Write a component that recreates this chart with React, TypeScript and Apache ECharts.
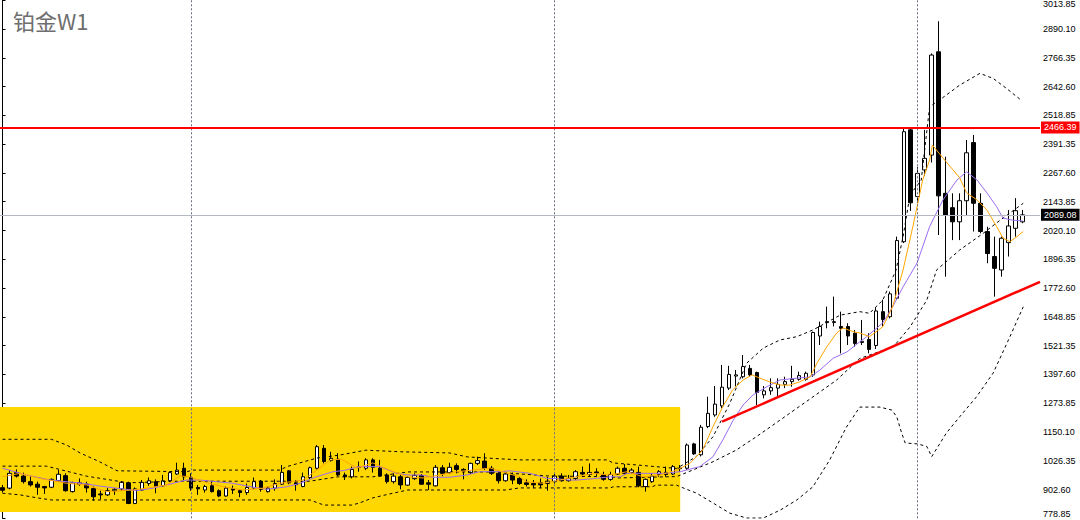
import { useEffect, useRef } from "react";
import * as echarts from "echarts";

const TITLE = "铂金W1";

// right price scale (bottom to top)
const Y_TICK_LABELS = [
  "778.85", "902.60", "1026.35", "1150.10", "1273.85", "1397.60", "1521.35",
  "1648.85", "1772.60", "1896.35", "2020.10", "2143.85", "2267.60", "2391.35",
  "2518.85", "2642.60", "2766.35", "2890.10", "3013.85",
];
const Y_MIN = 778.85;
const Y_STEP = 124.25;
const Y_MAX = 3015.35;

// weekly candles: [open, close, low, high]
const OHLC: number[][] = [
  [911, 900, 890, 923], [909, 973, 904, 987], [976, 961, 955, 990], [961, 937, 929, 976],
  [937, 923, 916, 961], [926, 913, 880, 937], [916, 910, 884, 919], [913, 947, 909, 951],
  [941, 969, 937, 987], [963, 898, 894, 973], [894, 932, 890, 937], [925, 932, 919, 951],
  [926, 910, 890, 937], [907, 872, 855, 916], [884, 880, 861, 898], [880, 898, 875, 909],
  [898, 904, 880, 909], [906, 934, 898, 939], [932, 843, 840, 937], [843, 906, 840, 912],
  [901, 934, 897, 944], [929, 941, 919, 955], [937, 916, 887, 947], [919, 941, 916, 966],
  [941, 976, 937, 980], [970, 987, 966, 1019], [995, 958, 944, 1019], [955, 909, 898, 973],
  [912, 906, 880, 923], [901, 916, 890, 923], [919, 894, 890, 937], [898, 875, 870, 904],
  [875, 909, 872, 916], [907, 901, 884, 920], [898, 890, 870, 904], [890, 912, 880, 929],
  [909, 937, 904, 955], [939, 904, 894, 944], [894, 909, 890, 916], [909, 929, 898, 947],
  [926, 977, 923, 1009], [984, 932, 926, 987], [932, 924, 898, 944], [916, 958, 913, 976],
  [955, 997, 944, 1002], [995, 1088, 990, 1095], [1081, 1024, 1016, 1095], [1028, 1038, 1024, 1066],
  [1034, 966, 961, 1060], [966, 958, 944, 976], [958, 990, 951, 1002], [999, 1001, 980, 1024],
  [995, 1031, 987, 1038], [1031, 999, 976, 1038], [995, 961, 958, 1031], [966, 937, 929, 973],
  [937, 961, 929, 973], [958, 923, 904, 966], [922, 955, 919, 961], [950, 964, 944, 973],
  [963, 926, 923, 970], [932, 926, 901, 944], [919, 999, 916, 1009], [997, 973, 961, 1009],
  [976, 999, 970, 1019], [1006, 990, 973, 1016], [990, 984, 947, 995], [976, 1016, 970, 1019],
  [1016, 1028, 1009, 1045], [1026, 995, 987, 1060], [995, 973, 966, 1005], [973, 941, 929, 984],
  [941, 970, 937, 980], [966, 944, 926, 976], [951, 929, 923, 958], [932, 925, 916, 947],
  [929, 923, 909, 944], [932, 923, 909, 951], [929, 939, 898, 958], [937, 961, 929, 973],
  [961, 941, 937, 973], [941, 951, 937, 966], [951, 980, 944, 987], [977, 970, 958, 1002],
  [968, 977, 958, 1016], [979, 973, 961, 995], [966, 947, 941, 980], [947, 968, 941, 980],
  [970, 995, 966, 1002], [995, 973, 966, 1013], [977, 987, 970, 995], [977, 919, 913, 1002],
  [916, 947, 894, 951], [937, 961, 932, 973], [968, 980, 958, 987], [977, 968, 958, 1002],
  [970, 1002, 966, 1009], [993, 996, 980, 1009], [995, 1095, 988, 1102], [1100, 1057, 1053, 1105],
  [1053, 1172, 1046, 1182], [1175, 1232, 1168, 1304], [1225, 1272, 1217, 1350], [1264, 1345, 1254, 1441],
  [1341, 1400, 1333, 1437], [1393, 1398, 1348, 1419], [1390, 1434, 1383, 1484], [1426, 1398, 1390, 1441],
  [1408, 1322, 1268, 1412], [1312, 1329, 1297, 1350], [1329, 1343, 1312, 1383], [1341, 1357, 1307, 1383],
  [1357, 1369, 1341, 1390], [1369, 1379, 1347, 1437], [1379, 1395, 1373, 1412], [1379, 1405, 1373, 1412],
  [1398, 1581, 1390, 1585], [1566, 1607, 1527, 1628], [1624, 1628, 1599, 1693], [1624, 1628, 1607, 1736],
  [1607, 1599, 1491, 1671], [1607, 1566, 1527, 1621], [1578, 1534, 1520, 1592], [1538, 1543, 1527, 1635],
  [1551, 1508, 1491, 1578], [1525, 1674, 1510, 1689], [1671, 1637, 1607, 1723], [1649, 1748, 1642, 1758],
  [1729, 1978, 1722, 1995], [1973, 2448, 1967, 2460], [2456, 2141, 2106, 2464], [2168, 2268, 2141, 2295],
  [2283, 2333, 2257, 2456], [2347, 2779, 2315, 2786], [2793, 2171, 2002, 2925], [2182, 2088, 1822, 2340],
  [2120, 2059, 1980, 2182], [2059, 2150, 1980, 2182], [2150, 2357, 2088, 2412], [2401, 2139, 2017, 2434],
  [2139, 2017, 2009, 2182], [2017, 1922, 1880, 2038], [1909, 1858, 1736, 1995], [1851, 1988, 1822, 1995],
  [1969, 2041, 1909, 2110], [2031, 2107, 1995, 2161], [2059, 2089.08, 2053, 2110],
];
const EMPTY_WEEKS_RIGHT = 2;

const RESISTANCE = 2466.39;
const LAST_PRICE = 2089.08;
const YEAR_SEPARATORS = [27, 79, 131];

// highlighted zone corners [week, price]
const ZONE_FROM = [-0.5, 1259];
const ZONE_TO = [97, 806];

// trend line [week, price]
const TREND = [[103, 1196], [148.5, 1800]];

// indicator lines: [week, price]
const UPPER_BAND = [[0,1120],[7,1120],[9.2,1095],[11.1,1061],[13.9,1023],[16.4,984],[26.4,980],[27.2,987],[39.7,987],[40.7,1002],[45,1039],[48.3,1052],[52,1073],[57,1066],[64,1061],[66.5,1044],[74,1031],[86.5,1031],[87.4,1018],[96.5,994],[99.3,1045],[101.7,1131],[104.1,1275],[106.5,1448],[108.9,1514],[111.3,1549],[113.7,1563],[116,1592],[119.9,1656],[122.7,1671],[124.1,1664],[126,1721],[127.9,1851],[128.9,1995],[129.9,2175],[131.5,2239],[132.7,2556],[134.4,2591],[137,2649],[139.9,2700],[141.8,2678],[143.7,2635],[145.6,2589]];
const MIDDLE_BAND = [[0,1004],[6.3,1004],[12,961],[18,932],[25,939],[44,939],[48,958],[53,958],[58,979],[64,979],[70,979],[78,962],[87,958],[88,953],[96.5,959],[101.7,1023],[105,1073],[107.9,1131],[111.3,1203],[116,1303],[119.4,1376],[122.7,1469],[127.5,1519],[129.9,1605],[132.3,1721],[133.7,1851],[137,1937],[140.4,2010],[142.8,2066],[146.1,2139]];
const LOWER_BAND = [[0,887],[2.5,880],[5,867],[7,858],[44,858],[46,836],[50,836],[51,844],[53,867],[55.4,884],[58,901],[72,901],[74,910],[87,910],[87.4,915],[93,915],[93.5,922],[96.5,922],[97,915],[99.3,888],[101.7,845],[104.1,801],[106.5,780],[108.9,780],[111.3,814],[113.7,858],[116,915],[118.4,1031],[120.8,1173],[122.7,1259],[125.6,1259],[127.3,1246],[128,1217],[128.7,1147],[129.2,1104],[131,1100],[132.3,1089],[133,1045],[135.1,1147],[137,1217],[139.4,1303],[141.8,1406],[144.2,1563],[146.1,1692]];
const SLOW_MA = [[0,995],[3.4,966],[6.8,944],[11.5,930],[13.9,918],[17.7,904],[19.2,898],[21.6,909],[23.5,923],[26.3,944],[28.2,944],[30.6,937],[33,930],[35.9,913],[37.8,904],[40.7,915],[42.6,930],[44.9,958],[47.3,980],[49,986],[51,1002],[54,1002],[56.4,973],[58,966],[60,966],[61.6,956],[64,956],[66.5,966],[68.3,980],[71.2,980],[72.6,984],[75.5,973],[78,951],[79,951],[81.2,944],[82.2,944],[85,951],[87,958],[88.4,958],[89.4,973],[94.5,973],[97,980],[99.8,1002],[101.7,1045],[103.1,1117],[104.6,1203],[106,1268],[107.4,1311],[109.4,1347],[111.3,1376],[113.7,1384],[115.6,1389],[117,1419],[118.9,1470],[120.9,1498],[122.7,1541],[123.7,1563],[126,1623],[127.4,1692],[128.9,1778],[130.9,1881],[132.7,2038],[134.6,2153],[136.6,2239],[138,2275],[139.5,2239],[140.9,2184],[142.3,2124],[143.2,2075],[144.6,2066],[146,2063]];
const FAST_MA = [[0,958],[2.5,973],[5.3,951],[9.2,930],[12,923],[14.9,894],[18.7,901],[20.6,909],[23.5,923],[25.4,962],[26.8,958],[28.7,937],[31.5,916],[34.4,901],[37.3,909],[39.7,930],[43,944],[45,987],[46.9,1031],[48.5,1034],[50.7,996],[53,1018],[55.4,987],[57.9,958],[60.2,953],[62.6,966],[65,980],[67.3,987],[69.8,996],[72.2,974],[74,958],[75,937],[77.4,930],[79.8,944],[82.2,958],[84.5,973],[86.9,966],[89.4,980],[91.7,958],[94.1,966],[96.5,987],[98.4,1016],[100.2,1073],[101.7,1175],[103.1,1261],[104.5,1333],[106,1376],[107.3,1398],[108.4,1384],[109.8,1368],[111.3,1354],[112.7,1354],[114.1,1368],[115.6,1390],[116.6,1450],[118,1520],[119.4,1579],[120.3,1601],[121.7,1585],[122.7,1579],[124.1,1563],[126,1606],[127.4,1692],[128.9,1851],[130.3,2038],[131.7,2239],[132.7,2326],[133.1,2390],[134.6,2335],[137,2249],[138,2184],[139.5,2153],[140.9,2110],[142.3,2038],[143.2,1989],[144.2,1973],[145.2,1995],[146.1,2017]];

const LABEL_FONT = "Liberation Sans";

export default function App() {
  const ref = useRef<HTMLDivElement>(null);
  useEffect(() => {
    document.body.style.margin = "0";
    const chart = echarts.init(ref.current!, null, { renderer: "svg" });
    const slots = OHLC.length + EMPTY_WEEKS_RIGHT;
    const weeks = Array.from({ length: slots }, (_, i) => "W" + (i + 1));
    const lastTick = Y_TICK_LABELS.length - 1;
    const band = (data: number[][]) => ({
      type: "line",
      xAxisIndex: 1,
      data,
      symbol: "none",
      z: 4,
      silent: true,
      lineStyle: { color: "#000000", width: 1, type: [3, 3] },
    });
    chart.setOption({
      animation: false,
      backgroundColor: "#ffffff",
      title: {
        text: TITLE,
        left: 13,
        top: 9,
        padding: 0,
        textStyle: { fontSize: 22, fontWeight: "normal", color: "#6e6e6e", fontFamily: "Noto Sans CJK SC" },
      },
      grid: { left: -1, right: 40, top: 0.3, bottom: 1.7, containLabel: false, outerBoundsMode: "none" },
      xAxis: [
        { type: "category", data: weeks, show: false, boundaryGap: true },
        { type: "value", min: -0.5, max: slots - 0.5, show: false },
      ],
      yAxis: {
        type: "value",
        position: "right",
        min: Y_MIN,
        max: Y_MAX,
        interval: Y_STEP,
        axisLine: { show: true, lineStyle: { color: "#000000", width: 1 } },
        axisTick: { show: true, length: 3, lineStyle: { color: "#000000" } },
        splitLine: { show: false },
        axisLabel: {
          margin: 3,
          color: "#000000",
          fontSize: 9,
          fontFamily: LABEL_FONT,
          formatter: (_v: number, i: number) => {
            const t = Y_TICK_LABELS[i] ?? "";
            if (i === 0) return "{lo|" + t + "}";
            if (i === lastTick) return "{hi|" + t + "}";
            return t;
          },
          rich: {
            lo: { fontSize: 9, color: "#000000", fontFamily: LABEL_FONT, padding: [0, 0, 8, 0] },
            hi: { fontSize: 9, color: "#000000", fontFamily: LABEL_FONT, padding: [8, 0, 0, 0] },
          },
        },
      },
      series: [
        {
          type: "line",
          xAxisIndex: 1,
          data: [],
          silent: true,
          markArea: {
            silent: true,
            itemStyle: { color: "#FFD700" },
            data: [[{ coord: ZONE_FROM }, { coord: ZONE_TO }]],
          },
          markLine: {
            silent: true,
            symbol: ["none", "none"],
            label: { show: false },
            lineStyle: { color: "#6a6a80", width: 1, type: [2, 2] },
            data: YEAR_SEPARATORS.map((w) => ({ xAxis: w })),
          },
        },
        {
          type: "candlestick",
          xAxisIndex: 0,
          data: OHLC,
          barWidth: 4,
          z: 3,
          itemStyle: {
            color: "#ffffff",
            color0: "#000000",
            borderColor: "#000000",
            borderColor0: "#000000",
            borderWidth: 1,
          },
          markLine: {
            silent: true,
            symbol: ["none", "none"],
            data: [
              {
                yAxis: RESISTANCE,
                lineStyle: { color: "#ff0000", width: 2, type: "solid" },
                label: {
                  show: true, position: "end", distance: 1, formatter: RESISTANCE.toFixed(2),
                  color: "#ffffff", backgroundColor: "#ff0000", padding: [2, 3, 1, 3],
                  fontSize: 9, fontFamily: LABEL_FONT,
                },
              },
              {
                yAxis: LAST_PRICE,
                lineStyle: { color: "#b4b9c0", width: 1, type: "solid" },
                label: {
                  show: true, position: "end", distance: 1, formatter: LAST_PRICE.toFixed(2),
                  color: "#ffffff", backgroundColor: "#000000", padding: [2, 3, 1, 3],
                  fontSize: 9, fontFamily: LABEL_FONT,
                },
              },
            ],
          },
        },
        band(UPPER_BAND),
        band(MIDDLE_BAND),
        band(LOWER_BAND),
        {
          type: "line", xAxisIndex: 1, data: SLOW_MA, symbol: "none", z: 4, silent: true,
          lineStyle: { color: "#9a6cf0", width: 1 },
        },
        {
          type: "line", xAxisIndex: 1, data: FAST_MA, symbol: "none", z: 4, silent: true,
          lineStyle: { color: "#ffa500", width: 1 },
        },
        {
          type: "line", xAxisIndex: 1, data: TREND, symbol: "none", z: 5, silent: true,
          lineStyle: { color: "#ff0000", width: 2.5 },
        },
      ],
    });
    return () => chart.dispose();
  }, []);
  return <div ref={ref} style={{ width: 1080, height: 520 }} />;
}
